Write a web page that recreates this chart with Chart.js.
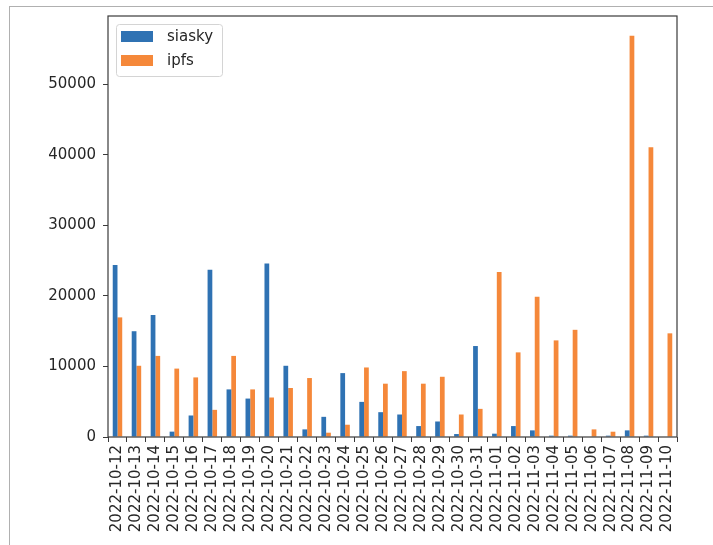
<!DOCTYPE html>
<html>
<head>
<meta charset="utf-8">
<script src="https://cdn.jsdelivr.net/npm/chart.js@4/dist/chart.umd.min.js"></script>
<style>
  html, body { margin: 0; padding: 0; background: #fff; }
  #wrap { position: relative; width: 713px; height: 545px; }
  #frame {
    position: absolute; left: 9px; top: 6px; right: 0; bottom: 0;
    border-top: 1px solid #b0b0b0; border-left: 1px solid #b0b0b0;
  }
  canvas { position: absolute; left: 0; top: 0; }
</style>
</head>
<body>
<div id="wrap">
  <div id="frame"></div>
  <canvas id="chart" width="713" height="545"></canvas>
</div>
<script>
const dates = [
  "2022-10-12", "2022-10-13", "2022-10-14", "2022-10-15", "2022-10-16",
  "2022-10-17", "2022-10-18", "2022-10-19", "2022-10-20", "2022-10-21",
  "2022-10-22", "2022-10-23", "2022-10-24", "2022-10-25", "2022-10-26",
  "2022-10-27", "2022-10-28", "2022-10-29", "2022-10-30", "2022-10-31",
  "2022-11-01", "2022-11-02", "2022-11-03", "2022-11-04", "2022-11-05",
  "2022-11-06", "2022-11-07", "2022-11-08", "2022-11-09", "2022-11-10"
];
const siasky = [
  24400, 15000, 17300, 760, 3050, 23700, 6750, 5450, 24600, 10100,
  1080, 2860, 9060, 4980, 3520, 3190, 1550, 2200, 420, 12900,
  470, 1550, 940, 190, 190, 0, 190, 940, 190, 0
];
const ipfs = [
  16960, 10100, 11500, 9700, 8450, 3850, 11500, 6750, 5600, 6950,
  8360, 610, 1740, 9860, 7560, 9340, 7560, 8540, 3190, 3990,
  23400, 12000, 19900, 13700, 15200, 1080, 750, 56900, 41100, 14700
];
const yTicks = [0, 10000, 20000, 30000, 40000, 50000];

const BLUE = "#2f72b3";
const ORANGE = "#f5883a";
const TEXT_COLOR = "#262626";
const FONT = { family: "DejaVu Sans", size: 15 };

// box around the axes + legend like matplotlib's
const frameAndLegend = {
  id: "frameAndLegend",
  afterDraw(chart) {
    const { ctx, chartArea } = chart;
    ctx.save();
    ctx.strokeStyle = "#3a3a3a";
    ctx.lineWidth = 1.2;
    ctx.strokeRect(chartArea.left, chartArea.top,
      chartArea.right - chartArea.left, chartArea.bottom - chartArea.top);

    // legend
    const lx = chartArea.left + 8, ly = chartArea.top + 8;
    const lw = 106, lh = 52;
    ctx.fillStyle = "rgba(255,255,255,0.8)";
    ctx.strokeStyle = "#d4d4d4";
    ctx.lineWidth = 1;
    ctx.beginPath();
    ctx.roundRect(lx + 0.5, ly + 0.5, lw, lh, 3);
    ctx.fill();
    ctx.stroke();
    ctx.font = `${FONT.size}px ${FONT.family}`;
    ctx.textBaseline = "middle";
    chart.data.datasets.forEach((ds, i) => {
      const y = ly + 7 + i * 24;
      ctx.fillStyle = ds.backgroundColor;
      ctx.fillRect(lx + 5, y, 32, 11);
      ctx.fillStyle = TEXT_COLOR;
      ctx.fillText(ds.label, lx + 51, y + 6);
    });
    ctx.restore();
  },
};

const ctx = document.getElementById("chart").getContext("2d");
new Chart(ctx, {
  type: "bar",
  data: {
    labels: dates,
    datasets: [
      { label: "siasky", data: siasky, backgroundColor: BLUE },
      { label: "ipfs", data: ipfs, backgroundColor: ORANGE },
    ],
  },
  options: {
    responsive: false,
    animation: false,
    layout: { padding: { left: 0, right: 36, top: 13, bottom: 0 } },
    datasets: { bar: { categoryPercentage: 0.5, barPercentage: 1.0 } },
    plugins: {
      legend: { display: false },
      tooltip: { enabled: false },
    },
    scales: {
      x: {
        grid: {
          display: true, drawOnChartArea: false, drawTicks: true,
          tickLength: 5, color: "#3a3a3a",
        },
        border: { display: false },
        ticks: {
          color: TEXT_COLOR, font: FONT, padding: 3,
          minRotation: 90, maxRotation: 90, autoSkip: false,
        },
        afterFit(axis) { axis.height = 545 - 437; },
      },
      y: {
        min: 0,
        max: 59700,
        grid: {
          display: true, drawOnChartArea: false, drawTicks: true,
          tickLength: 5, color: "#3a3a3a",
        },
        border: { display: false },
        ticks: {
          color: TEXT_COLOR, font: FONT, padding: 7,
          callback: (value) => String(value),
        },
        afterBuildTicks(axis) { axis.ticks = yTicks.map((v) => ({ value: v })); },
        afterFit(axis) { axis.width = 108; },
      },
    },
  },
  plugins: [frameAndLegend],
});
</script>
</body>
</html>
